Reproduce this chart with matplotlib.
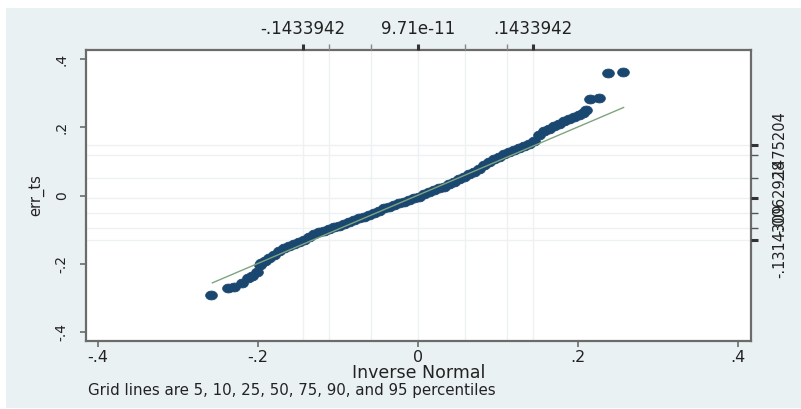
import matplotlib
matplotlib.use("Agg")
import matplotlib.pyplot as plt
import numpy as np
from matplotlib.patches import Rectangle

# ---------------- data ----------------
inv_normal = [
    -0.259, -0.238, -0.230, -0.220, -0.212, -0.207, -0.201, -0.197,
    -0.196, -0.191, -0.186, -0.180, -0.174, -0.1675, -0.161, -0.155,
    -0.149, -0.1425, -0.136, -0.130, -0.124, -0.1175, -0.111, -0.105,
    -0.099, -0.0925, -0.086, -0.080, -0.074, -0.0675, -0.061, -0.055,
    -0.049, -0.0425, -0.036, -0.030, -0.024, -0.0175, -0.011, -0.005,
    0.001, 0.0075, 0.014, 0.020, 0.026, 0.0325, 0.039, 0.045,
    0.051, 0.0575, 0.064, 0.070, 0.076, 0.0825, 0.089, 0.095,
    0.101, 0.1075, 0.114, 0.120, 0.126, 0.1325, 0.139, 0.145,
    0.151, 0.1575, 0.164, 0.170, 0.176, 0.1825, 0.189, 0.195,
    0.201, 0.206, 0.210,
    0.215, 0.226, 0.238, 0.256,
]
err_ts = [
    -0.293, -0.270, -0.267, -0.255, -0.243, -0.235, -0.223, -0.205,
    -0.199, -0.191, -0.182, -0.173, -0.164, -0.155, -0.147, -0.141,
    -0.135, -0.129, -0.122, -0.114, -0.108, -0.103, -0.097, -0.092,
    -0.088, -0.084, -0.079, -0.073, -0.067, -0.062, -0.056, -0.050,
    -0.044, -0.038, -0.034, -0.029, -0.023, -0.018, -0.012, -0.007,
    -0.003, 0.003, 0.009, 0.015, 0.021, 0.026, 0.034, 0.041,
    0.047, 0.053, 0.062, 0.070, 0.079, 0.088, 0.097, 0.106,
    0.114, 0.122, 0.128, 0.132, 0.138, 0.144, 0.150, 0.161,
    0.176, 0.188, 0.196, 0.204, 0.210, 0.217, 0.223, 0.229,
    0.236, 0.243, 0.251,
    0.283, 0.287, 0.358, 0.362,
]
ref_x = [-0.257, 0.257]
ref_y = [-0.256, 0.258]

x_pct = [-0.1433942, -0.1117, -0.0588, 9.71e-11, 0.0588, 0.1117, 0.1433942]
y_pct = [-0.1314309, -0.095, -0.051, -0.0062928, 0.052, 0.119, 0.1475204]
x_pct_labels = ["-.1433942", "9.71e-11", ".1433942"]
y_pct_labels = ["-.1314309", "-.0062928", ".1475204"]

x_ticks = [-0.4, -0.2, 0.0, 0.2, 0.4]
x_tick_labels = ["-.4", "-.2", "0", ".2", ".4"]
y_ticks = [-0.4, -0.2, 0.0, 0.2, 0.4]
y_tick_labels = ["-.4", "-.2", "0", ".2", ".4"]

x_title = "Inverse Normal"
y_title = "err_ts"
note = "Grid lines are 5, 10, 25, 50, 75, 90, and 95 percentiles"

# ---------------- style ----------------
W, H = 801, 409
BG = "#eaf1f3"
NAVY = "#1a476f"
REFC = "#7da57f"
GRID = "#edf1f2"
SPINE = "#6b6b6b"
TXT = "#222222"

fig = plt.figure(figsize=(W / 100, H / 100), dpi=100, facecolor="white")
fig.patches.append(Rectangle((6 / W, 1 / H), 1 - 6 / W, (H - 9) / H,
                             transform=fig.transFigure, facecolor=BG,
                             edgecolor="none", zorder=-10))

L, R, T, B = 86, 751, 50, 341
ax = fig.add_axes([L / W, 1 - B / H, (R - L) / W, (B - T) / H])
ax.set_facecolor("white")
ax.set_xlim(-0.415, 0.41625)
ax.set_ylim(-0.4264, 0.4264)

# percentile grid lines
for xv in x_pct:
    ax.axvline(xv, color=GRID, lw=1.0, zorder=1)
for yv in y_pct:
    ax.axhline(yv, color=GRID, lw=1.0, zorder=1)

# ellipse marker (picture is stretched horizontally)
t = np.linspace(0, 2 * np.pi, 41)
ell = list(zip(np.cos(t), 0.76 * np.sin(t)))
ax.plot(inv_normal, err_ts, linestyle="none", marker=ell, markersize=8.4,
        markerfacecolor=NAVY, markeredgecolor=NAVY, markeredgewidth=0.6,
        zorder=3)
ax.plot(ref_x, ref_y, color=REFC, lw=1.0, zorder=4)

for s in ax.spines.values():
    s.set_color(SPINE)
    s.set_linewidth(1.6)

ax.set_xticks(x_ticks)
ax.set_xticklabels(x_tick_labels)
ax.set_yticks(y_ticks)
ax.set_yticklabels(y_tick_labels, rotation=90, va="center")
ax.tick_params(axis="x", direction="out", length=4.5, width=1.2,
               color=SPINE, pad=2, labelsize=11.5, labelcolor=TXT)
ax.tick_params(axis="y", direction="out", length=4.5, width=1.2,
               color=SPINE, pad=8, labelsize=10, labelcolor=TXT)

# top axis: percentiles of inverse normal
axt = ax.twiny()
axt.set_xlim(ax.get_xlim())
axt.set_xticks([x_pct[0], x_pct[3], x_pct[6]])
axt.set_xticklabels(x_pct_labels)
axt.set_xticks([x_pct[1], x_pct[2], x_pct[4], x_pct[5]], minor=True)
axt.tick_params(axis="x", which="major", direction="out", length=4,
                width=2.2, color="#333333", pad=5, labelsize=12,
                labelcolor=TXT)
axt.tick_params(axis="x", which="minor", direction="out", length=4,
                width=1.0, color="#888888")
for s in axt.spines.values():
    s.set_visible(False)

# right axis: percentiles of err_ts
axr = ax.twinx()
axr.set_ylim(ax.get_ylim())
axr.set_yticks([y_pct[0], y_pct[3], y_pct[6]])
axr.set_yticklabels(y_pct_labels, rotation=90, va="center")
axr.set_yticks([y_pct[1], y_pct[2], y_pct[4], y_pct[5]], minor=True)
axr.tick_params(axis="y", which="major", direction="out", length=5,
                width=2.2, color="#333333", pad=10, labelsize=10.5,
                labelcolor=TXT)
axr.tick_params(axis="y", which="minor", direction="out", length=5,
                width=1.0, color="#555555")
for s in axr.spines.values():
    s.set_visible(False)

fig.text(419 / W, 1 - 373 / H, x_title, ha="center", va="center",
         fontsize=12.5, color=TXT)
fig.text(36 / W, 1 - 195 / H, y_title, ha="center", va="center",
         rotation=90, fontsize=10.5, color=TXT)
fig.text(88 / W, 1 - 390 / H, note, ha="left", va="center",
         fontsize=10.8, color=TXT)

fig.savefig("out.png", dpi=100, facecolor="white")
